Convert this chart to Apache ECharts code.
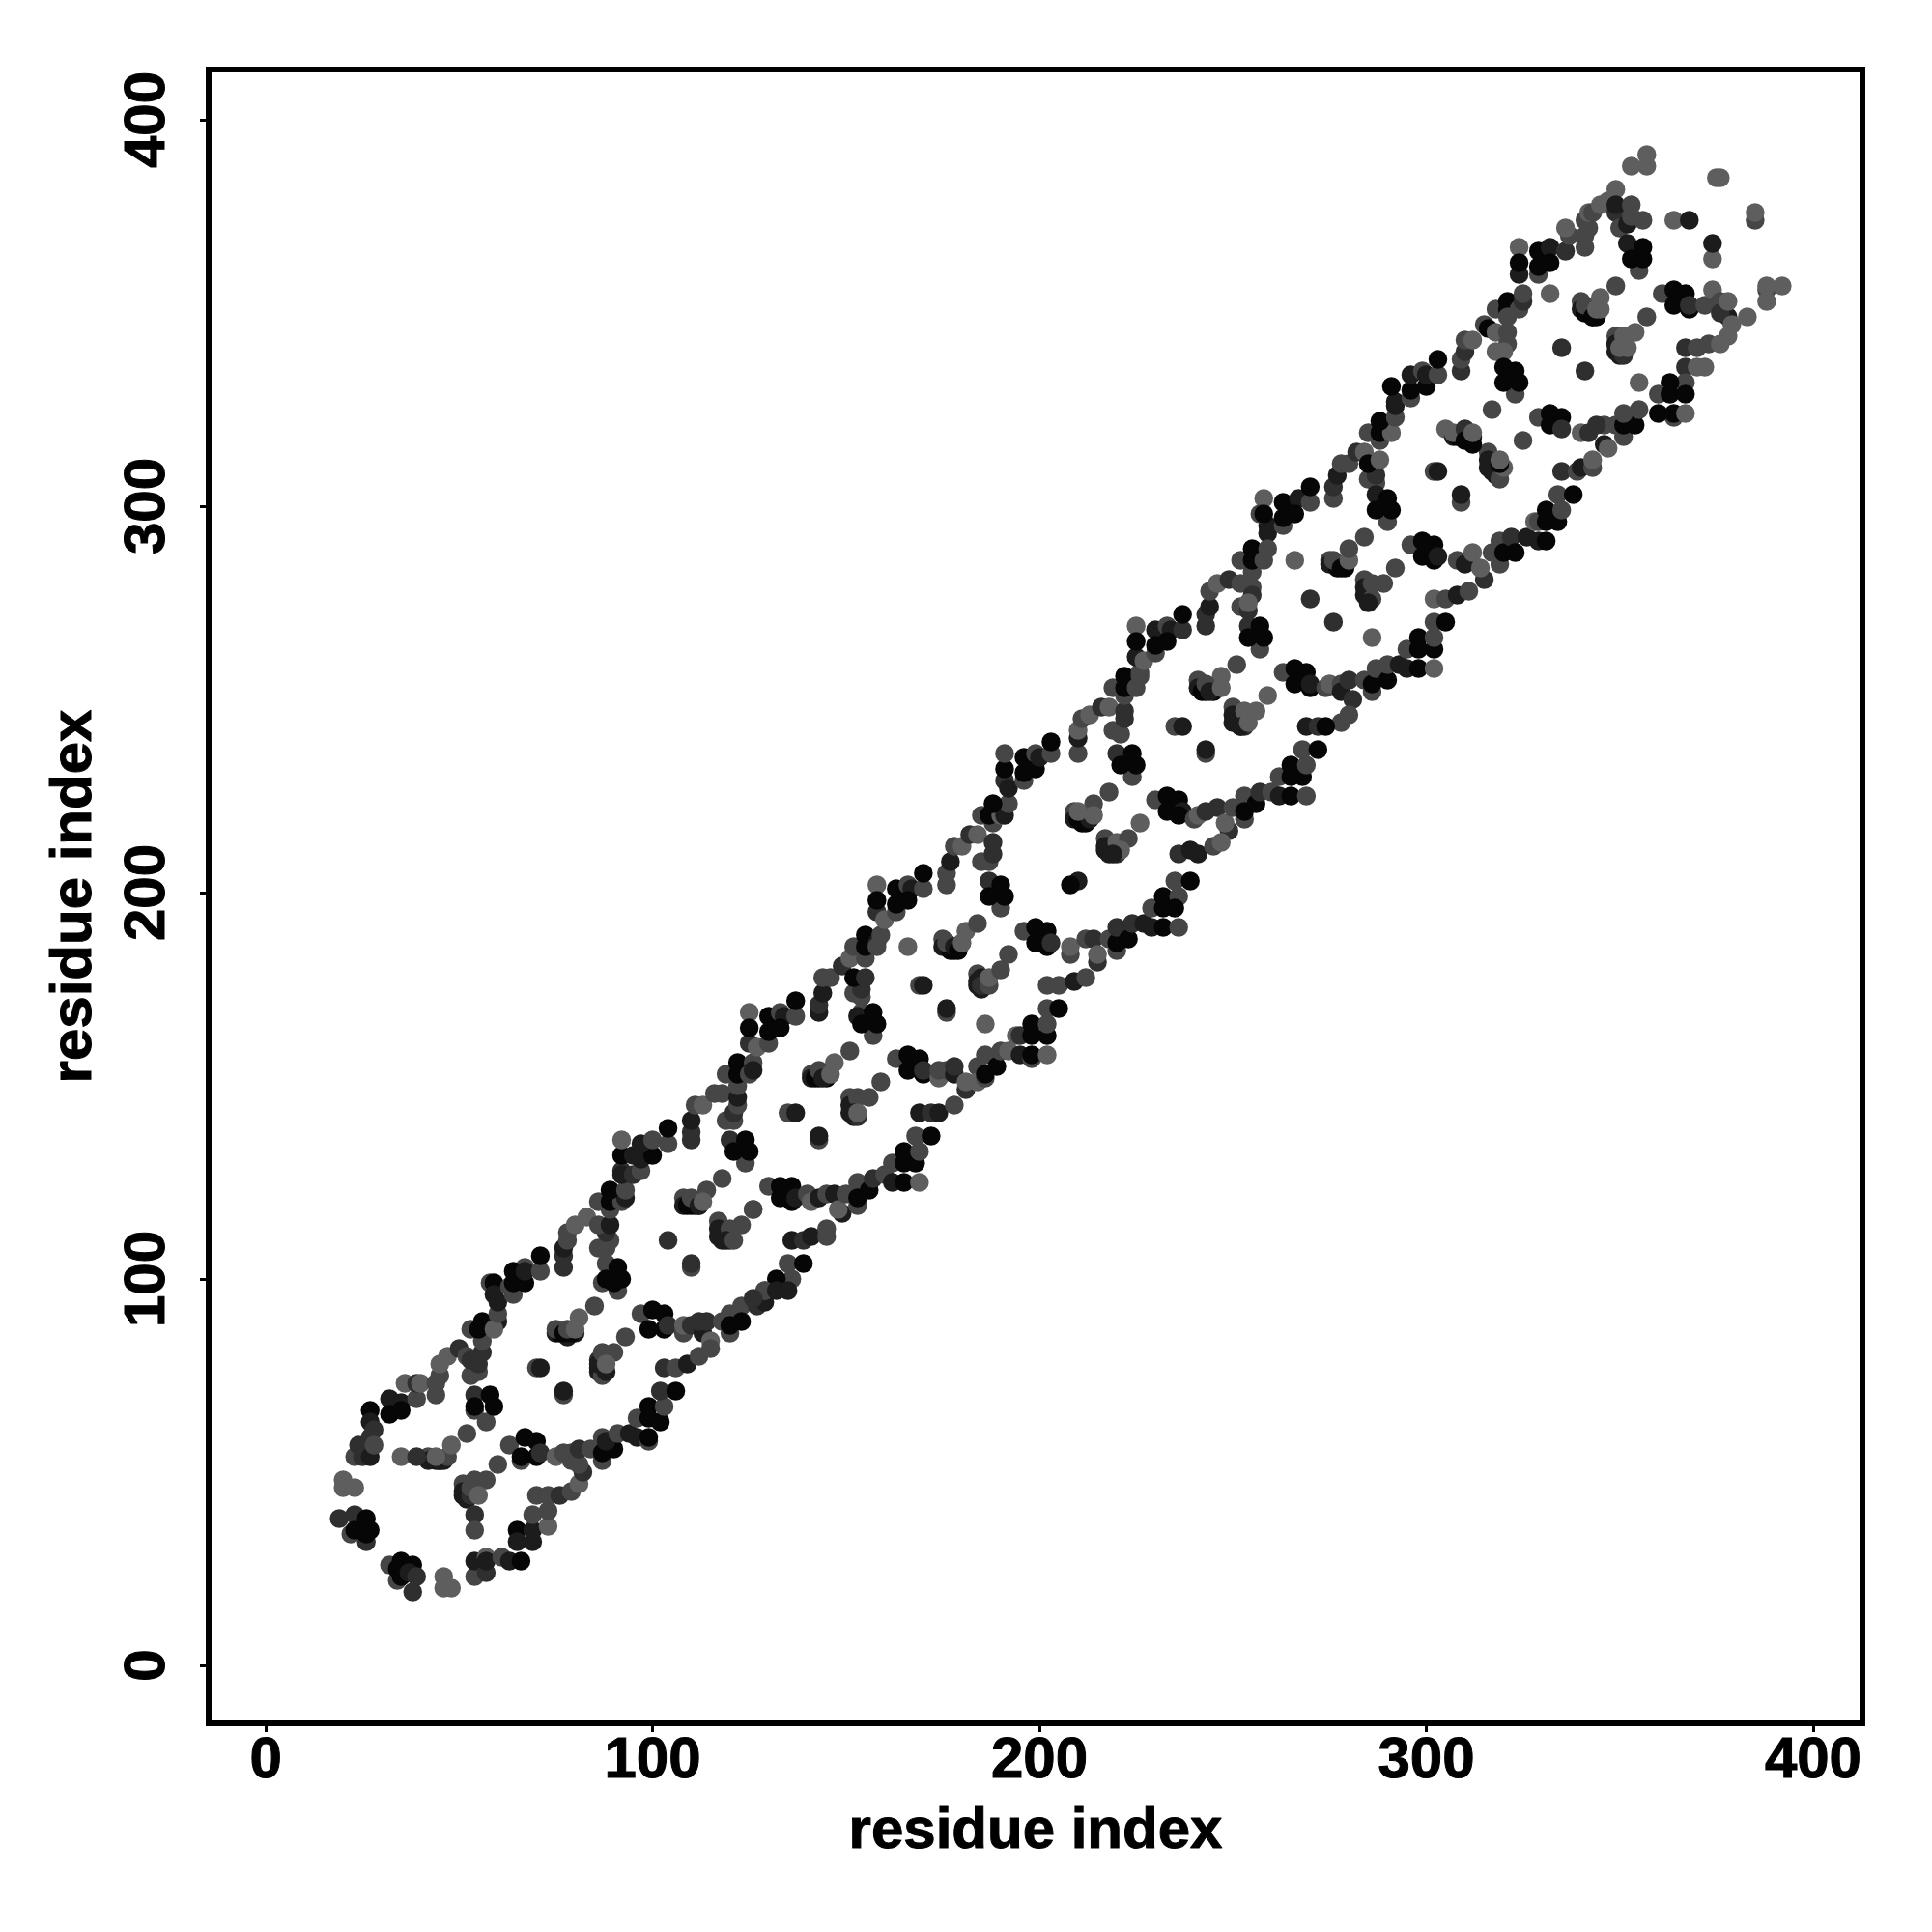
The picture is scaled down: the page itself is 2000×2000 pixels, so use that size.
<!DOCTYPE html>
<html><head><meta charset="utf-8">
<style>html,body{margin:0;padding:0;background:#fff}#c{width:2000px;height:2000px}</style>
<script src="https://cdn.jsdelivr.net/npm/echarts@6/dist/echarts.min.js"></script>
</head><body><div id="c"></div>
<script>
const tickValues=[0,100,200,300,400];
const axisTitle='residue index';
const shades=['#060606','#1c1c1c','#2f2f2f','#464646','#5e5e5e'];
// each contact: [residue i, residue j, shade index]
const innerBlobs=[[42,54,3],[42,53,1],[44,53,1],[45,53,0],[46,53,1],[51,47,3],[51,45,1],[51,44,1],[52,43,1],[53,44,1],
[75,86,1],[76,86,0],[78,86,0],[78,85,1],[80,86,1],[86,79,2],[86,77,1],[87,76,1],[86,76,1],
[108,121,3],[108,119,1],[109,119,0],[110,119,0],[111,119,0],[112,119,1],[117,115,3],[117,113,1],[117,111,1],[118,110,1],[120,110,2],
[141,153,3],[141,152,1],[142,152,0],[143,152,0],[145,152,0],[151,147,3],[151,145,1],[151,143,1],[152,142,1],[153,142,2],
[175,188,3],[175,186,1],[176,186,1],[177,185,0],[178,185,0],[184,179,3],[184,177,1],[184,176,1],[185,175,1],
[209,221,3],[209,219,1],[210,219,0],[211,218,0],[212,218,0],[217,214,3],[217,212,1],[217,211,1],[218,210,1],[220,210,2],
[241,255,3],[241,253,1],[242,252,0],[243,252,0],[245,252,0],[250,248,3],[250,246,1],[250,244,1],[252,243,1],[253,243,2],
[275,286,3],[275,285,1],[276,285,1],[277,284,0],[279,284,0],[284,281,3],[284,279,1],[284,277,1],[285,276,1],
[305,320,4],[307,318,1],[308,318,0],[309,318,0],[311,318,0],[316,314,3],[316,312,1],[316,310,1],[317,309,1],[319,309,2],
[340,353,3],[340,351,1],[341,350,0],[343,349,0],[344,349,0],[349,344,3],[349,342,1],[349,340,1],[350,339,1],[351,339,2]];
const turn0=[[38,19,2],[46,23,4],[46,20,4],[48,20,4],[32,26,3],[34,22,3],[35,27,0],[34,25,0],[38,26,0],[35,23,0],[37,24,1],[39,23,2],
[19,38,2],[23,39,2],[22,34,3],[26,38,0],[27,35,0],[26,32,2],[23,35,0],[26,34,0],[20,48,4],[20,46,4],[23,46,4],
[23,54,3],[24,57,2],[25,54,2],[27,54,1],[27,66,0],[27,63,1],[27,59,2],[28,61,2],[28,57,3],
[32,69,1],[32,65,0],[35,68,1],[35,66,0],[39,69,3],[36,73,4],[39,73,2],[40,73,4],
[44,70,3],[45,75,3],[44,73,3],[45,78,4],[47,80,4],[50,82,2],[52,80,3],[53,75,3],[55,76,3],[53,79,2],[55,78,2],[56,81,2],
[53,87,3],[56,84,3],[56,89,0],[55,87,0],[58,88,0],[60,89,1],[59,87,4],[60,91,3],
[58,99,3],[59,99,0],[59,96,1],[60,94,1],[64,96,3],[63,98,3],[67,103,3],[64,102,0],[64,99,0],[67,99,0],[67,102,1],[71,102,3],[71,106,0],
[77,103,2],[77,106,2],[77,108,1],[78,110,3],[78,112,3],[80,114,4],[83,116,4],
[86,108,3],[88,108,3],[89,110,3],[88,112,2],[86,114,3],[89,114,1],
[87,99,3],[91,97,3],[88,104,3],[91,103,0],[88,100,0],[92,100,0],[90,99,0],
[52,60,3],[45,53,1],[47,54,3],[44,54,4],[48,57,4],[35,54,4],[39,54,2],
[57,63,3],[54,66,3],[54,70,2],[58,70,0],[59,67,0],[54,67,0],
[63,57,3],[66,53,3],[67,59,0],[70,58,0],[66,54,0],[70,54,0],[71,55,2],[60,52,3],
[53,44,2],[54,48,3],[57,48,3],[53,46,3],[55,44,4],[54,39,2],[54,35,3],
[54,23,3],[54,27,1],[57,24,2],[57,28,4],[57,27,1],[61,28,3],[63,27,1],[66,27,0],
[65,35,0],[65,32,1],[69,32,1],[69,35,1],[73,36,4],[69,39,3],[73,40,3],
[70,44,3],[73,44,3],[76,44,2],[79,45,3],[81,47,4],[82,50,2],
[81,52,3],[79,53,3],[75,54,4],[77,55,3],[79,55,3],[81,56,2],[84,56,3],
[87,53,3],[87,59,3],[87,55,0],[90,56,0],[88,58,1],[91,60,3],[94,60,1],[96,59,1],[99,58,3],[99,59,0],
[96,64,3],[99,67,0],[99,64,0],[102,63,0],[103,67,3],[102,71,2],[106,71,0],
[70,77,3],[71,77,1],[77,70,3],[77,71,1],
[75,87,3],[77,86,0],[79,86,0],[78,87,3],[80,87,4],[81,90,4],[85,93,3],
[87,75,3],[86,78,1],[88,76,1],[87,81,3],[90,81,3],[88,78,4],[93,85,3],
[97,91,3],[100,92,0],[103,91,0],[99,87,0],[103,87,0],[104,88,2],
[108,86,3],[108,88,4],[110,88,2],[113,86,1],[112,89,2],[114,89,2],[115,84,4],
[103,77,2],[106,77,3],[109,78,1],[112,80,3],[115,82,3],
[118,89,3],[120,91,3],[120,86,3],[120,88,0],[123,93,3],[123,89,0],[127,93,2],[129,94,1],[129,97,3]];
const turn1=[[89,118,3],[86,120,3],[89,120,0],[92,120,3],[93,121,1],[89,123,0],[93,123,3],
[92,128,2],[92,127,1],[95,127,2],[97,128,3],[92,132,0],[95,132,1],[97,131,1],[100,132,0],[92,136,4],[97,135,1],[100,136,3],[104,135,3],[104,139,0],
[110,136,2],[110,138,2],[110,141,1],[111,145,3],[113,145,4],[116,148,3],[118,148,3],[119,141,3],[121,141,3],[121,143,2],[122,145,3],[122,147,1],
[120,136,2],[124,130,3],[124,136,0],[121,133,0],[125,133,0],
[122,150,3],[119,153,3],[122,156,0],[122,153,0],[125,153,3],[126,156,3],[126,154,1],
[125,161,2],[127,160,4],[125,169,4],[125,165,0],[130,161,3],[130,168,0],[130,164,0],[133,169,3],[134,168,1],[133,165,0],[137,168,3],[137,172,0],
[143,169,1],[143,171,2],[144,174,1],[144,178,3],[146,178,3],[149,181,2],[151,183,4],
[152,174,3],[154,173,3],[154,175,2],[152,178,0],[155,178,2],
[157,163,3],[154,169,3],[153,168,1],[157,169,0],[154,166,0],[158,166,0],
[155,183,3],[152,186,3],[155,189,0],[155,186,0],[158,187,1],[158,186,3],[159,189,3],
[158,195,2],[160,193,4],[158,202,4],[158,198,0],[163,195,3],[163,201,0],[163,197,0],[166,202,3],[167,201,1],[166,198,0],[170,201,3],[170,205,0],
[176,202,3],[176,205,3],[177,208,1],[178,212,3],[180,212,4],[182,215,2],[184,215,4],
[185,208,3],[187,208,3],[188,210,2],[188,213,2],
[190,196,3],[187,203,2],[190,202,0],[187,199,0],[191,199,0],
[118,126,3],[114,123,3],[110,121,3],[112,119,1],[113,120,4],[126,118,4],
[120,113,3],[123,114,3],[119,110,1],[121,110,3],[104,110,2],[110,103,3],[110,104,2],[126,118,3],
[130,124,3],[133,124,0],[136,124,0],[133,121,0],[136,120,0],[137,121,1],
[140,122,3],[141,120,4],[143,121,1],[145,122,3],[147,122,1],[149,117,1],[148,118,4],
[136,110,1],[139,110,2],[141,111,1],[145,111,3],[145,113,3],
[150,122,3],[153,125,3],[153,119,3],[153,121,0],[156,123,0],[157,126,2],[160,127,3],[162,125,1],[165,125,0],[169,125,4],
[162,130,3],[165,130,0],[165,133,0],[168,130,0],[169,133,3],[168,137,3],[172,137,0],
[135,104,3],[139,104,0],[136,100,3],[132,100,0],[129,97,3],[132,97,1],[135,97,1],[126,95,2],
[166,186,4],[176,187,3],[178,186,1],[179,185,0],[180,187,4],[181,190,4],[184,192,3],[192,184,3],
[169,176,3],[170,176,1],[176,169,3],[176,170,1],[185,178,1],[185,176,2],[187,176,3],[187,178,4],[190,180,3],[186,166,4],
[151,159,3],[147,156,4],[143,154,3],[144,152,1],[146,153,4],[159,151,3],
[156,147,3],[153,147,3],[152,143,1],[153,143,4],[135,143,3],[137,143,1],[143,136,3],[143,137,1],
[163,157,3],[166,158,0],[169,157,0],[166,154,0],[170,153,0],[170,154,2],
[174,152,4],[174,154,3],[176,154,3],[178,153,1],[178,155,2],[181,149,2],[181,151,4],[184,155,3],[184,151,4],
[169,143,1],[172,143,2],[174,143,1],[178,145,3],
[186,158,3],[186,152,3],[186,153,0],[189,155,0],[190,159,3],[192,159,4],[195,158,1],[198,157,3],[198,158,0],[202,158,4],
[194,163,4],[195,163,2],[198,166,0],[198,163,0],[202,163,0],[202,166,3],[202,170,3],[205,170,0]];
const turn2=[[196,190,3],[199,191,0],[202,190,0],[199,187,0],[202,186,0],[203,187,2],
[208,184,3],[208,186,4],[212,188,3],[214,188,2],[215,182,2],[215,184,4],
[202,176,3],[205,176,3],[209,177,1],[212,178,3],
[218,188,3],[220,185,3],[220,187,0],[220,191,2],[223,188,0],[224,192,2],[227,192,1],[229,191,1],[229,196,3],[232,191,0],[232,196,0],[232,199,0],[236,191,3],[236,199,3],[235,196,0],[235,203,3],[239,203,0],
[210,203,1],[208,202,0],[220,213,4],[223,214,3],[221,211,4],[219,210,1],[226,218,4],
[188,218,3],[185,220,3],[187,220,0],[190,220,4],[191,220,1],[192,223,3],[188,223,0],
[191,229,2],[192,227,1],[196,229,3],[191,232,0],[191,236,3],[196,231,0],[196,235,0],[199,232,0],[199,236,3],[200,235,1],[203,236,3],[203,239,0],
[210,236,3],[210,240,1],[210,242,4],[211,245,3],[213,246,4],[216,248,2],[218,248,4],[219,242,3],[221,241,3],[222,245,2],[222,247,2],
[224,230,3],[220,236,2],[224,236,0],[221,233,0],[225,233,0],
[218,226,3],[214,223,3],[213,219,1],[214,220,4],[210,221,4],
[230,224,3],[233,225,0],[236,224,0],[233,221,0],[237,221,1],[236,220,0],
[240,219,3],[241,220,4],[243,221,2],[246,222,2],[249,216,2],[248,218,4],
[236,210,2],[239,211,1],[241,210,1],[245,212,3],[247,213,4],
[250,222,3],[253,225,3],[253,219,3],[253,221,0],[256,223,0],[257,226,2],[260,226,3],[262,225,1],[265,225,0],[269,225,3],
[262,230,3],[265,230,0],[265,233,0],[268,230,0],[269,233,3],[268,237,3],[272,237,0],
[222,251,3],[219,253,3],[222,256,0],[222,253,0],[225,253,3],[226,257,3],[226,256,3],
[225,261,1],[227,260,4],[225,269,4],[225,265,0],[230,262,3],[230,268,1],[230,264,0],[233,269,3],[234,268,1],[233,265,0],[237,268,2],[237,272,0],
[243,269,2],[243,272,2],[244,274,1],[244,278,3],[246,280,4],[249,281,2],[252,280,3],[255,279,3],[255,277,2],
[252,274,3],[254,273,2],[254,275,4],
[257,263,3],[254,269,2],[257,269,0],[254,266,0],[258,266,0],
[255,283,3],[252,286,3],[255,289,0],[255,286,0],[258,286,3],[259,293,1],[259,295,1],[259,289,3],
[258,302,4],[257,298,3],[258,298,0],[263,295,3],[263,301,0],[263,297,0],[267,302,1],[266,298,0],[270,301,3],[270,305,0],
[276,302,3],[276,305,2],[277,308,1],[278,311,3],[280,311,3],[282,314,2],[284,314,4],
[285,307,3],[287,306,3],[287,308,2],[285,311,0],[288,312,4],
[290,296,3],[287,303,1],[290,302,0],[287,299,0],[291,299,0],
[251,259,3],[247,256,4],[243,254,3],[244,252,1],[247,253,4],[259,251,4],
[256,247,4],[253,247,4],[252,243,1],[254,244,4],[235,243,3],[237,243,1],[243,236,3],[243,237,1],
[266,286,4],[276,286,3],[278,284,0],[280,286,4],[280,289,3],[284,292,3],[292,284,3],
[270,276,2],[286,276,3],[285,275,1],[286,280,3],[289,280,3],[276,270,2],[286,266,4],
[263,257,3],[266,258,0],[269,257,0],[266,254,0],[270,253,0],[270,254,1],
[274,253,3],[275,254,4],[278,254,3],[278,252,1],[280,255,2],[281,250,2],[280,246,3],[278,244,3],
[269,243,1],[272,243,2],[274,243,0],
[284,255,3],[286,252,3],[286,254,0],[287,258,3],[290,255,0],[290,259,3],[293,259,1],[295,258,1],[298,258,0],[302,258,4],
[295,263,3],[298,266,0],[298,263,0],[302,263,0],[302,266,3],[302,270,3],[305,270,0]];
const turn3=[[296,290,3],[299,291,0],[302,290,0],[299,287,0],[302,286,0],[303,287,1],
[308,286,3],[310,285,1],[312,288,4],[315,281,2],[314,284,4],
[302,276,4],[305,276,3],[308,277,1],[311,278,3],
[317,288,3],[319,291,3],[319,285,3],[320,288,0],[322,292,2],[323,288,0],[326,292,1],[329,291,1],[328,296,4],
[331,291,0],[329,296,3],[331,296,0],[334,296,0],[331,299,0],[335,299,3],[334,303,3],[338,303,0],
[309,301,3],[309,303,1],[302,309,3],[303,309,1],[318,308,1],[319,307,3],[320,310,4],[319,311,0],[319,312,4],
[288,317,3],[285,319,3],[288,319,0],[291,319,4],[288,322,0],[292,323,3],
[292,326,1],[292,327,1],[296,328,3],[296,330,0],[291,331,0],[300,331,0],[296,334,1],[299,335,3],[300,334,1],[303,334,3],[303,338,0],
[309,335,2],[309,338,3],[310,340,2],[310,343,3],[312,343,4],[315,347,3],[316,346,0],[318,345,4],[321,345,3],[321,342,3],[318,340,4],[320,340,4],
[323,329,3],[320,336,0],[323,335,0],[320,332,0],[324,332,0],
[317,325,3],[325,317,3],[329,323,3],[332,324,0],[335,323,0],[332,321,0],[335,320,2],
[307,319,4],[310,320,2],[312,318,0],[310,317,0],[312,316,0],[312,319,4],
[318,351,3],[321,353,0],[321,351,0],[324,351,3],[325,353,2],[325,355,3],[321,349,3],
[324,360,1],[329,360,3],[324,367,4],[324,363,0],[329,366,0],[329,362,0],[332,367,1],[332,363,0],
[336,366,2],[337,370,3],[336,372,4],[341,367,3],[341,370,3],[342,372,3],[341,374,3],[342,376,4],[343,376,3],[345,378,4],[347,379,4],[349,382,4],
[349,376,2],[349,378,1],[350,372,3],[352,373,1],[353,375,3],[353,378,3],[356,374,3],
[355,361,3],[352,368,1],[356,367,0],[353,364,0],[356,364,0],
[353,388,4],[357,388,4],[357,391,4],[375,385,4],[376,385,4],[385,374,3],[385,376,4],[364,374,4],[368,374,1],[374,364,4],[374,368,1],
[332,355,4],[349,357,3],[341,352,3],[343,349,0],[344,351,4],[345,351,4],[345,354,4],[357,349,3],
[335,341,2],[341,335,2],[355,332,4],[349,342,1],[350,341,4],[352,341,4],[351,344,4],[354,345,4],
[361,355,3],[364,356,0],[367,355,0],[364,352,0],[368,351,0],[368,352,2],
[372,352,3],[374,356,4],[376,353,3],[378,349,1],[376,350,2],[378,353,4],[379,347,4],[383,349,4],[378,344,4],
[388,356,3],[388,353,4],[388,357,4],[392,357,4],
[367,341,2],[370,341,3],[373,342,3],[376,342,4],
[367,336,2],[370,336,4],[372,336,4],[367,332,3],[363,332,0],[360,329,3],[363,329,0],[367,329,0],
[364,323,3],[360,324,0],[364,324,0],[367,324,4],
[351,318,3],[349,321,3],[351,321,0],[354,321,0],[351,324,3],[355,325,3],
[346,321,3],[344,321,2],[340,319,4],[342,319,2],[346,316,1],[347,315,4],
[335,309,2],[339,309,3],[340,310,1],[343,310,3],[343,312,4]];
const contacts=[...innerBlobs,...turn0,...turn1,...turn2,...turn3];

const chart=echarts.init(document.getElementById('c'),null,{renderer:'canvas'});
const font={fontFamily:'"Liberation Sans"',fontWeight:'bold',fontSize:60,color:'#000',textBorderColor:'#000',textBorderWidth:1};
const tick={show:true,length:9,lineStyle:{color:'#000',width:3},customValues:tickValues};
chart.setOption({
 animation:false,
 backgroundColor:'#fff',
 grid:{left:216,top:72,width:1712,height:1712,show:true,borderColor:'#000',borderWidth:6,backgroundColor:'transparent'},
 xAxis:{type:'value',min:-14.75,max:412.75,splitLine:{show:false},axisLine:{show:false,onZero:false},axisTick:tick,
  axisLabel:{...font,margin:9,customValues:tickValues},
  name:axisTitle,nameLocation:'middle',nameGap:82,nameTextStyle:{...font}},
 yAxis:{type:'value',min:-15,max:413,splitLine:{show:false},axisLine:{show:false,onZero:false},axisTick:tick,
  axisLabel:{...font,rotate:90,margin:33,customValues:tickValues},
  name:axisTitle,nameLocation:'middle',nameGap:109,nameTextStyle:{...font}},
 series:[{type:'scatter',symbol:'circle',symbolSize:19.5,data:contacts,silent:true,large:false,progressive:0,
  itemStyle:{opacity:1,color:p=>shades[p.value[2]]}}]
});
</script></body></html>
